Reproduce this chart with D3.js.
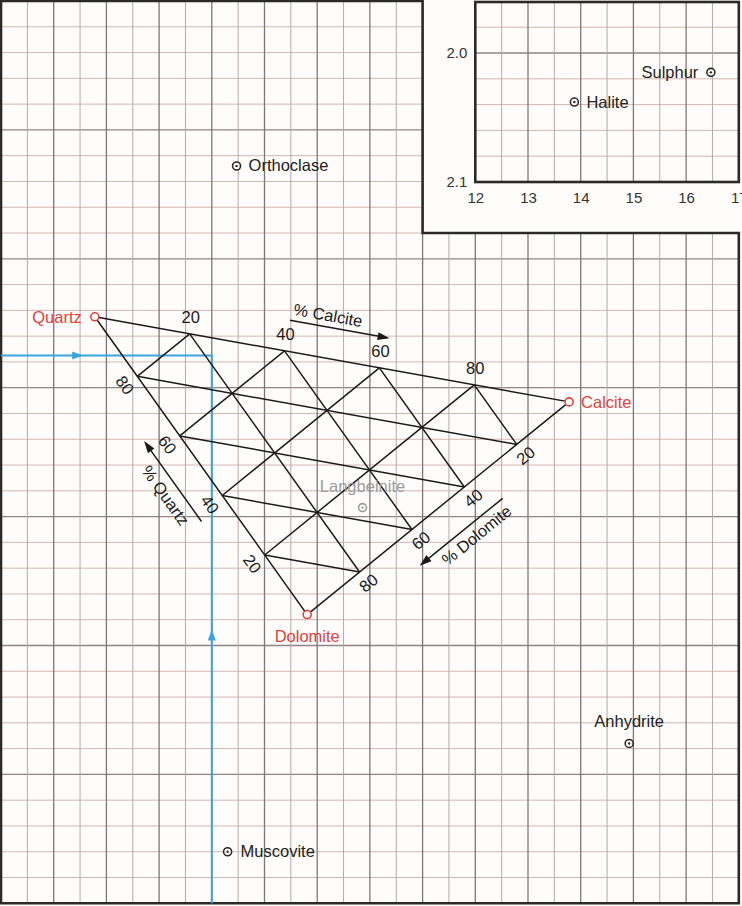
<!DOCTYPE html>
<html>
<head>
<meta charset="utf-8">
<script src="https://cdn.jsdelivr.net/npm/d3@7"></script>
<style>
  html, body { margin: 0; padding: 0; background: #fffdfb; }
  svg { display: block; }
  text { font-family: "Liberation Sans", Arial, Helvetica, sans-serif; }
</style>
</head>
<body>
<svg id="chart" width="742" height="906"></svg>
<script>
// ---------------- DATA ----------------
const mineralNames = ["Quartz", "Calcite", "Dolomite", "Orthoclase", "Langbeinite", "Anhydrite", "Muscovite"];
const mineralU     = [4.78, 13.78, 8.81, 7.47, 9.86, 14.92, 7.30];
const mineralRho   = [2.645, 2.711, 2.876, 2.528, 2.793, 2.976, 3.06];

const insetNames = ["Halite", "Sulphur"];
const insetU     = [13.88, 16.47];
const insetRho   = [2.038, 2.015];

const ternaryTicks = [20, 40, 60, 80];          // % values on each side of the triangle
const insetXTicks  = [12, 13, 14, 15, 16, 17];
const insetYTicks  = [2.0, 2.1];

const readingU = 7.0;      // sample reading (blue lines)
const readingRho = 2.675;

// ---------------- LAYOUT / STYLE ----------------
const W = 742, H = 906;
const RED = "#e3413b", BLACK = "#222", GRAY = "#9c9c9c", BLUE = "#3ba4dc";
const labelStyle = {
  Quartz:      {anchor: "end",    dx: -13, dy: 6,    color: RED,   marker: "open"},
  Calcite:     {anchor: "start",  dx: 12,  dy: 6,    color: RED,   marker: "open"},
  Dolomite:    {anchor: "middle", dx: 0,   dy: 27,   color: RED,   marker: "open"},
  Orthoclase:  {anchor: "start",  dx: 12,  dy: 5.5,  color: BLACK, marker: "dot"},
  Langbeinite: {anchor: "middle", dx: 0,   dy: -15.5,color: GRAY,  marker: "dot"},
  Anhydrite:   {anchor: "middle", dx: 0,   dy: -16,  color: BLACK, marker: "dot"},
  Muscovite:   {anchor: "start",  dx: 13,  dy: 5.5,  color: BLACK, marker: "dot"},
  Halite:      {anchor: "start",  dx: 12,  dy: 5.5,  color: BLACK, marker: "dot"},
  Sulphur:     {anchor: "end",    dx: -12.5, dy: 5.5,color: BLACK, marker: "dot"}
};

const x = d3.scaleLinear().domain([3, 17]).range([1, 738.8]);
const y = d3.scaleLinear().domain([2.4, 3.1]).range([1, 903.3]);
const yIn = d3.scaleLinear().domain([2.0, 2.1]).range([53, 182]);

const cutU = 11, cutRho = 2.58;   // corner of the cut-out holding the inset
const insetTop = yIn.invert(2);

const svg = d3.select("#chart");
svg.append("rect").attr("width", W).attr("height", H).attr("fill", "#fffdfb");

// ---------- main grid (clipped to L-shaped area) ----------
const Lpath = [
  [x(3), y(3.1)], [x(3), y(2.4)], [x(cutU), y(2.4)], [x(cutU), y(cutRho)],
  [x(17), y(cutRho)], [x(17), y(3.1)]
];
svg.append("clipPath").attr("id", "mainClip")
  .append("path").attr("d", d3.line()(Lpath) + "Z");

const isInt = v => Math.abs(v - Math.round(v)) < 1e-6;
const isTenth = v => Math.abs(v * 10 - Math.round(v * 10)) < 1e-6;

const gGrid = svg.append("g").attr("clip-path", "url(#mainClip)");
const xGridVals = d3.range(3.5, 17, 0.5);
const yGridVals = d3.range(1, 35).map(i => 2.4 + i * 0.02);

gGrid.selectAll("line.h").data(yGridVals).join("line")
  .attr("x1", x(3)).attr("x2", x(17))
  .attr("y1", d => y(d)).attr("y2", d => y(d))
  .attr("stroke", d => isTenth(d) ? "#8e8585" : "#d2b6b0")
  .attr("stroke-width", d => isTenth(d) ? 1.3 : 1);
gGrid.selectAll("line.v").data(xGridVals).join("line")
  .attr("x1", d => x(d)).attr("x2", d => x(d))
  .attr("y1", y(2.4)).attr("y2", y(3.1))
  .attr("stroke", d => isInt(d) ? "#7e7676" : "#b3a8a8")
  .attr("stroke-width", d => isInt(d) ? 1.3 : 1);

// main frame
svg.append("path").attr("d", d3.line()(Lpath) + "Z")
  .attr("fill", "none").attr("stroke", "#2a2a2a").attr("stroke-width", 2.6);

// ---------- inset ----------
const gIn = svg.append("g");
const inXGrid = d3.range(12.5, 17, 0.5);
const inYGrid = [1.98, 2.0, 2.02, 2.04, 2.06, 2.08];
gIn.selectAll("line.h").data(inYGrid).join("line")
  .attr("x1", x(12)).attr("x2", x(17))
  .attr("y1", d => yIn(d)).attr("y2", d => yIn(d))
  .attr("stroke", d => isTenth(d) ? "#8e8585" : "#d2b6b0")
  .attr("stroke-width", d => isTenth(d) ? 1.3 : 1);
gIn.selectAll("line.v").data(inXGrid).join("line")
  .attr("x1", d => x(d)).attr("x2", d => x(d))
  .attr("y1", yIn(insetTop)).attr("y2", yIn(2.1))
  .attr("stroke", d => isInt(d) ? "#7e7676" : "#b3a8a8")
  .attr("stroke-width", d => isInt(d) ? 1.3 : 1);
gIn.append("rect")
  .attr("x", x(12)).attr("y", yIn(insetTop))
  .attr("width", x(17) - x(12)).attr("height", yIn(2.1) - yIn(insetTop))
  .attr("fill", "none").attr("stroke", "#2a2a2a").attr("stroke-width", 2.6);

// inset axes (labels only)
const axB = gIn.append("g").attr("transform", `translate(0,${yIn(2.1)})`)
  .call(d3.axisBottom(x).tickValues(insetXTicks).tickSize(0).tickPadding(10).tickFormat(d3.format("d")));
const axL = gIn.append("g").attr("transform", `translate(${x(12)},0)`)
  .call(d3.axisLeft(yIn).tickValues(insetYTicks).tickSize(0).tickPadding(8).tickFormat(d3.format(".1f")));
[axB, axL].forEach(a => {
  a.select(".domain").remove();
  a.selectAll("text").attr("font-size", 15).attr("fill", "#333")
    .style("font-family", '"Liberation Sans", Arial, Helvetica, sans-serif');
});

// ---------- blue reading lines ----------
function arrowHead(g, tip, dir, len, half, color) {
  const n = Math.hypot(dir[0], dir[1]);
  const ux = dir[0] / n, uy = dir[1] / n;
  const bx = tip[0] - ux * len, by = tip[1] - uy * len;
  g.append("path")
    .attr("d", `M${tip[0]},${tip[1]}L${bx - uy * half},${by + ux * half}L${bx + uy * half},${by - ux * half}Z`)
    .attr("fill", color);
}
const gBlue = svg.append("g");
const rX = x(readingU), rY = y(readingRho);
gBlue.append("path")
  .attr("d", `M${x(3)},${rY}L${rX},${rY}L${rX},${y(3.1)}`)
  .attr("fill", "none").attr("stroke", BLUE).attr("stroke-width", 2);
arrowHead(gBlue, [x(3) + (rX - x(3)) * 0.39, rY], [1, 0], 11, 4, BLUE);
arrowHead(gBlue, [rX, y(3.1) - (y(3.1) - rY) * 0.5], [0, -1], 11, 4, BLUE);

// ---------- ternary ----------
const idx = n => mineralNames.indexOf(n);
const P = n => [x(mineralU[idx(n)]), y(mineralRho[idx(n)])];
const Qp = P("Quartz"), Cp = P("Calcite"), Dp = P("Dolomite");
const bary = (q, c, d) => [q * Qp[0] + c * Cp[0] + d * Dp[0], q * Qp[1] + c * Cp[1] + d * Dp[1]];
const centroid = bary(1 / 3, 1 / 3, 1 / 3);
function outward(a, b) {
  const dx = b[0] - a[0], dy = b[1] - a[1], n = Math.hypot(dx, dy);
  let nx = -dy / n, ny = dx / n;
  const mx = (a[0] + b[0]) / 2, my = (a[1] + b[1]) / 2;
  if ((mx - centroid[0]) * nx + (my - centroid[1]) * ny < 0) { nx = -nx; ny = -ny; }
  return [nx, ny];
}
const ang = (a, b) => Math.atan2(b[1] - a[1], b[0] - a[0]) * 180 / Math.PI;
const nQC = outward(Qp, Cp), nQD = outward(Qp, Dp), nDC = outward(Dp, Cp);

const gT = svg.append("g").attr("stroke", "#1a1a1a").attr("stroke-width", 1.5).attr("fill", "none");
gT.append("path").attr("d", d3.line()([Qp, Cp, Dp]) + "Z");
const segs = [];
ternaryTicks.forEach(t => {
  const v = t / 100;
  segs.push([bary(1 - v, 0, v), bary(0, 1 - v, v)]);   // constant dolomite
  segs.push([bary(1 - v, v, 0), bary(0, v, 1 - v)]);   // constant calcite
  segs.push([bary(v, 1 - v, 0), bary(v, 0, 1 - v)]);   // constant quartz
});
gT.selectAll("line").data(segs).join("line")
  .attr("x1", d => d[0][0]).attr("y1", d => d[0][1])
  .attr("x2", d => d[1][0]).attr("y2", d => d[1][1]);

const gTL = svg.append("g").attr("fill", "#1a1a1a").attr("font-size", 16.5);
// % Calcite ticks on Q-C side (horizontal)
ternaryTicks.forEach(t => {
  const p = bary(1 - t / 100, t / 100, 0);
  gTL.append("text").attr("x", p[0] + 1).attr("y", p[1] - 16.5)
    .attr("text-anchor", "middle").attr("dominant-baseline", "central").text(t);
});
// % Quartz ticks on Q-D side
const aQD = ang(Qp, Dp);
ternaryTicks.forEach(t => {
  const p = bary(t / 100, 0, 1 - t / 100);
  const lx = p[0] + nQD[0] * 15, ly = p[1] + nQD[1] * 15;
  gTL.append("text").attr("transform", `translate(${lx},${ly}) rotate(${aQD})`)
    .attr("text-anchor", "middle").attr("dominant-baseline", "central").text(t);
});
// % Dolomite ticks on D-C side
const aDC = ang(Dp, Cp);
ternaryTicks.forEach(t => {
  const p = bary(0, 1 - t / 100, t / 100);
  const lx = p[0] + nDC[0] * 14, ly = p[1] + nDC[1] * 14;
  gTL.append("text").attr("transform", `translate(${lx},${ly}) rotate(${aDC})`)
    .attr("text-anchor", "middle").attr("dominant-baseline", "central").text(t);
});

// axis arrows with titles
function sideArrow(a, b, n, t0, t1, off, tText, offText, label, rot) {
  const pt = (t, o) => [a[0] + (b[0] - a[0]) * t + n[0] * o, a[1] + (b[1] - a[1]) * t + n[1] * o];
  const s = pt(t0, off), e = pt(t1, off);
  const dir = [e[0] - s[0], e[1] - s[1]];
  const L = Math.hypot(dir[0], dir[1]);
  const e2 = [e[0] - dir[0] / L * 8, e[1] - dir[1] / L * 8];
  svg.append("line").attr("x1", s[0]).attr("y1", s[1]).attr("x2", e2[0]).attr("y2", e2[1])
    .attr("stroke", "#1a1a1a").attr("stroke-width", 1.5);
  arrowHead(svg, e, dir, 12, 4, "#1a1a1a");
  const tp = pt(tText, offText);
  svg.append("text").attr("transform", `translate(${tp[0]},${tp[1]}) rotate(${rot})`)
    .attr("text-anchor", "middle").attr("dominant-baseline", "central")
    .attr("font-size", 16.5).attr("fill", "#1a1a1a").text(label);
}
sideArrow(Qp, Cp, nQC, 0.40, 0.61, 31, 0.476, 43, "% Calcite", ang(Qp, Cp));
sideArrow(Dp, Qp, nQD, 0.375, 0.645, 32, 0.49, 46, "% Quartz", aQD);
sideArrow(Cp, Dp, nDC, 0.333, 0.65, 33, 0.462, 45, "% Dolomite", aDC);

// ---------- mineral points ----------
function drawPoint(g, px, py, name) {
  const st = labelStyle[name];
  const col = st.color;
  g.append("circle").attr("cx", px).attr("cy", py).attr("r", 4)
    .attr("fill", "#fffdfb").attr("stroke", col === BLACK ? "#2a2a2a" : col).attr("stroke-width", 1.6);
  if (st.marker === "dot")
    g.append("circle").attr("cx", px).attr("cy", py).attr("r", 1.2).attr("fill", col === BLACK ? "#2a2a2a" : col);
  g.append("text").attr("x", px + st.dx).attr("y", py + st.dy)
    .attr("text-anchor", st.anchor).attr("font-size", 16.5).attr("fill", col).text(name);
}
const gP = svg.append("g");
mineralNames.forEach((n, i) => drawPoint(gP, x(mineralU[i]), y(mineralRho[i]), n));
insetNames.forEach((n, i) => drawPoint(gP, x(insetU[i]), yIn(insetRho[i]), n));
</script>
</body>
</html>
